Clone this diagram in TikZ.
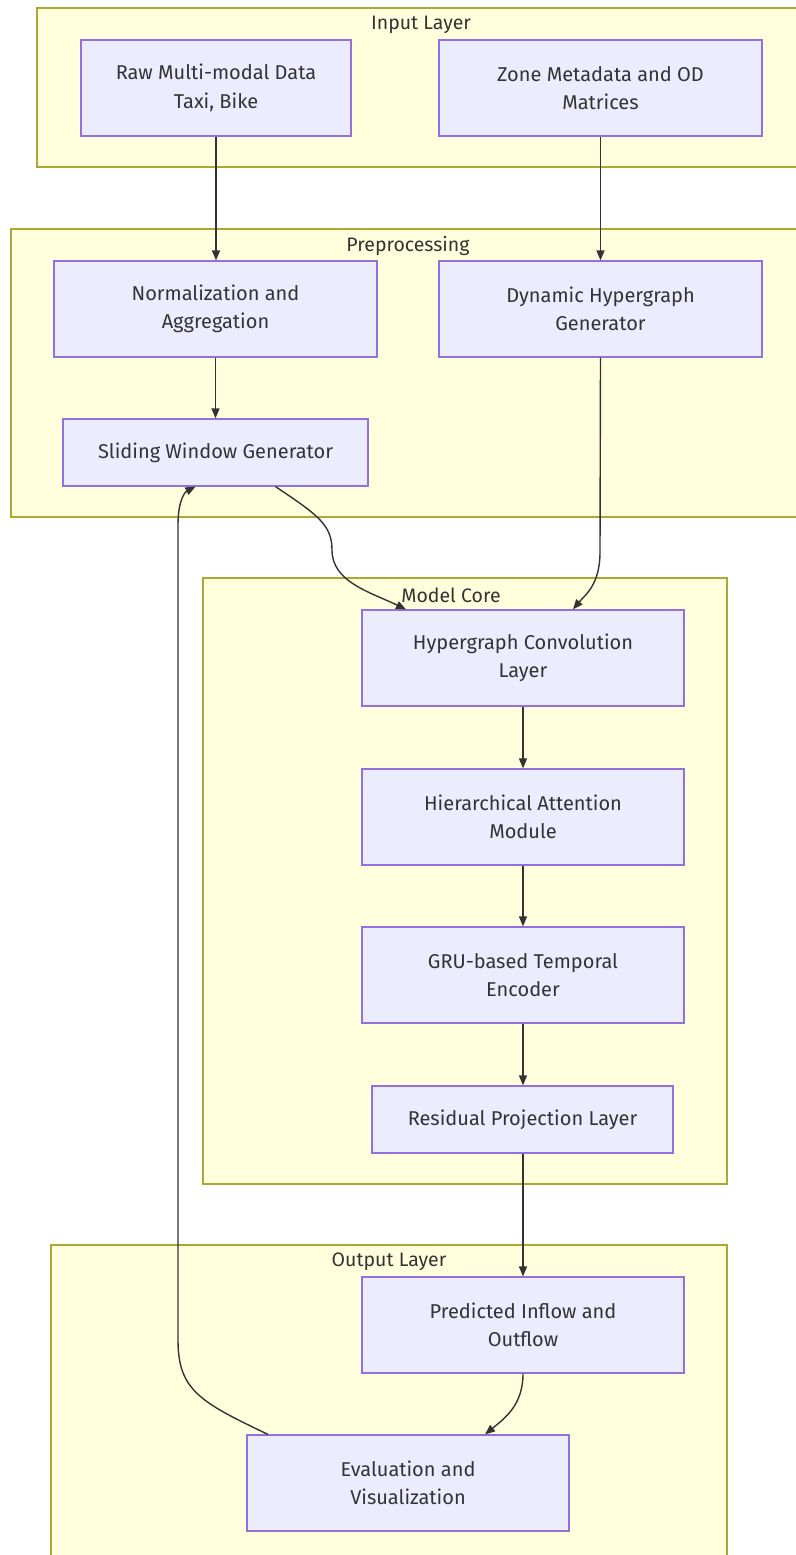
\documentclass[tikz,border=0pt]{standalone}
\usepackage{fontspec}
\setmainfont{Fira Sans}
\usetikzlibrary{arrows.meta,calc}
\definecolor{clfill}{HTML}{FFFFDE}
\definecolor{clline}{HTML}{AAAA33}
\definecolor{ndfill}{HTML}{ECECFF}
\definecolor{ndline}{HTML}{9370DB}
\definecolor{txt}{HTML}{333333}
\tikzset{
  box/.style={draw=ndline, fill=ndfill, line width=1.2pt, align=center, text=txt,
    font=\fontsize{20}{28.5}\selectfont, inner sep=0pt},
  cluster/.style={draw=clline, fill=clfill, line width=1.2pt},
  cltitle/.style={text=txt, font=\fontsize{19.5}{22}\selectfont, inner sep=0pt},
  edge/.style={draw=txt, line width=1.4pt, -{Triangle[length=10pt,width=8pt]}},
}
\begin{document}
\begin{tikzpicture}[x=1pt,y=-1pt]
\useasboundingbox (0,0) rectangle (795,1555);
\fill[white] (0,0) rectangle (795,1555);
% clusters
\draw[cluster] (37,8) rectangle (810,167);
\node[cltitle] (tin) at (421,25) {Input Layer};
\draw[cluster] (11,229) rectangle (810,517);
\node[cltitle] (tpre) at (408,246) {Preprocessing};
\draw[cluster] (203,578) rectangle (727,1184);
\node[cltitle] (tmc) at (451,595) {Model Core};
\draw[cluster] (51,1245) rectangle (727,1570);
\node[cltitle] (tout) at (389,1262) {Output Layer};
% nodes
\node[box, minimum width=270pt, minimum height=96pt] (raw) at (216,88) {Raw Multi-modal Data\\Taxi, Bike};
\node[box, minimum width=323pt, minimum height=96pt] (zone) at (600.5,88) {Zone Metadata and OD\\Matrices};
\node[box, minimum width=323pt, minimum height=96pt] (norm) at (215.5,309) {Normalization and\\Aggregation};
\node[box, minimum width=323pt, minimum height=96pt] (dyn) at (600.5,309) {Dynamic Hypergraph\\Generator};
\node[box, minimum width=305pt, minimum height=67pt] (slide) at (215.5,452.5) {Sliding Window Generator};
\node[box, minimum width=322pt, minimum height=96pt] (hconv) at (523,658) {Hypergraph Convolution\\Layer};
\node[box, minimum width=322pt, minimum height=96pt] (hier) at (523,817) {Hierarchical Attention\\Module};
\node[box, minimum width=322pt, minimum height=96pt] (gru) at (523,975) {GRU-based Temporal\\Encoder};
\node[box, minimum width=301pt, minimum height=67pt] (resid) at (522.5,1119.5) {Residual Projection Layer};
\node[box, minimum width=322pt, minimum height=96pt] (pred) at (523,1325) {Predicted Inflow and\\Outflow};
\node[box, minimum width=322pt, minimum height=96pt] (eval) at (408,1483) {Evaluation and\\Visualization};
% edges
\draw[edge] (raw.south) -- (raw.south |- norm.north);
\draw[edge] (zone.south) -- (zone.south |- dyn.north);
\draw[edge] (norm.south) -- (norm.south |- slide.north);
\draw[edge] ([xshift=60pt]slide.south) .. controls (318,515) and (332,525) .. (332,550)
  .. controls (332,582) and (370,592) .. ([xshift=-117pt]hconv.north);
\draw[edge] (dyn.south) -- (600,552) .. controls (600,585) and (585,595) .. ([xshift=50pt]hconv.north);
\draw[edge] (hconv.south) -- (hier.north);
\draw[edge] (hier.south) -- (gru.north);
\draw[edge] (gru.south) -- (gru.south |- resid.north);
\draw[edge] (gru.south |- resid.south) -- (pred.north);
\draw[edge] (pred.south) .. controls (523,1405) and (505,1418) .. ([xshift=77pt]eval.north);
\draw[edge] ([xshift=-140pt]eval.north) .. controls (200,1402) and (178,1390) .. (178,1340)
  -- (178,525) .. controls (178,500) and (185,492) .. ([xshift=-20pt]slide.south);
\end{tikzpicture}
\end{document}
